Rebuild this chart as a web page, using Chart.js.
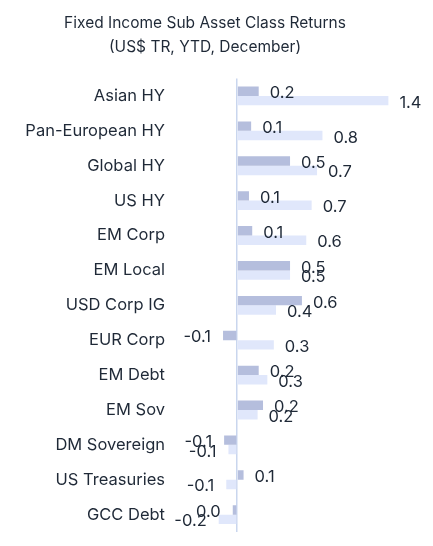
<!DOCTYPE html>
<html>
<head>
<meta charset="utf-8">
<script src="https://cdn.jsdelivr.net/npm/chart.js@4/dist/chart.umd.min.js"></script>
<style>
  html, body { margin: 0; padding: 0; background: #fff; overflow: hidden; }
  canvas { display: block; }
</style>
</head>
<body>
<canvas id="returnsChart" width="433" height="546" style="width:433px;height:546px"></canvas>
<script>
// Categories and the two return series (%)
const categories = [
    'Asian HY', 'Pan-European HY', 'Global HY', 'US HY', 'EM Corp', 'EM Local',
    'USD Corp IG', 'EUR Corp', 'EM Debt', 'EM Sov', 'DM Sovereign', 'US Treasuries', 'GCC Debt'
];
const monthReturns = [0.20, 0.13, 0.49, 0.11, 0.14, 0.49, 0.60, -0.13, 0.20, 0.24, -0.12, 0.06, -0.04];
const ytdReturns = [1.40, 0.79, 0.74, 0.69, 0.64, 0.49, 0.36, 0.34, 0.28, 0.19, -0.08, -0.10, -0.17];

const textColor = '#1f2937';
const fontFamily = 'Inter, "Open Sans", sans-serif';

function fmt(v) {
    let s = v.toFixed(1);
    if (s === '-0.0') s = '0.0';
    return s;
}

// Draws the value next to the end of each bar
const valueLabels = {
    id: 'valueLabels',
    afterDatasetsDraw(chart) {
        const ctx = chart.ctx;
        ctx.save();
        ctx.font = '16.5px ' + fontFamily;
        ctx.fillStyle = textColor;
        ctx.textBaseline = 'middle';
        chart.data.datasets.forEach(function(ds, i) {
            const meta = chart.getDatasetMeta(i);
            meta.data.forEach(function(bar, j) {
                const v = ds.data[j];
                if (v >= 0) {
                    ctx.textAlign = 'left';
                    ctx.fillText(fmt(v), bar.x + 11, bar.y + 2);
                } else {
                    ctx.textAlign = 'right';
                    ctx.fillText(fmt(v), bar.x - 12, bar.y + 2);
                }
            });
        });
        ctx.restore();
    }
};

const ctx = document.getElementById('returnsChart').getContext('2d');
new Chart(ctx, {
    type: 'bar',
    data: {
        labels: categories,
        datasets: [
            {
                label: 'Month',
                data: monthReturns,
                backgroundColor: '#b5bedd',
                categoryPercentage: 0.54,
                barPercentage: 1.0
            },
            {
                label: 'YTD',
                data: ytdReturns,
                backgroundColor: '#e0e7fb',
                categoryPercentage: 0.54,
                barPercentage: 1.0
            }
        ]
    },
    options: {
        indexAxis: 'y',
        responsive: false,
        animation: false,
        layout: { padding: { left: 0, right: 23, top: 0, bottom: 11 } },
        plugins: {
            legend: { display: false },
            tooltip: { enabled: false },
            title: {
                display: true,
                text: ['Fixed Income Sub Asset Class Returns', '(US$ TR, YTD, December)'],
                color: textColor,
                font: { family: fontFamily, size: 15.5, weight: 'normal', lineHeight: 1.5 },
                padding: { top: 12, bottom: 20 }
            }
        },
        scales: {
            x: {
                min: -0.63,
                max: 1.6,
                ticks: { display: false, stepSize: 0.2 },
                border: { display: false },
                grid: {
                    drawTicks: false,
                    lineWidth: 1.5,
                    color: function(c) {
                        return c.tick && Math.abs(c.tick.value) < 1e-9 ? '#c9d6ee' : 'rgba(0,0,0,0)';
                    }
                },
                afterFit: function(scale) { scale.height = 0; }
            },
            y: {
                border: { display: false },
                grid: { display: false, drawTicks: false },
                ticks: {
                    color: textColor,
                    padding: 4,
                    font: { family: fontFamily, size: 16.5 }
                },
                afterFit: function(scale) { scale.width = 169; }
            }
        }
    },
    plugins: [valueLabels]
});
</script>
</body>
</html>
